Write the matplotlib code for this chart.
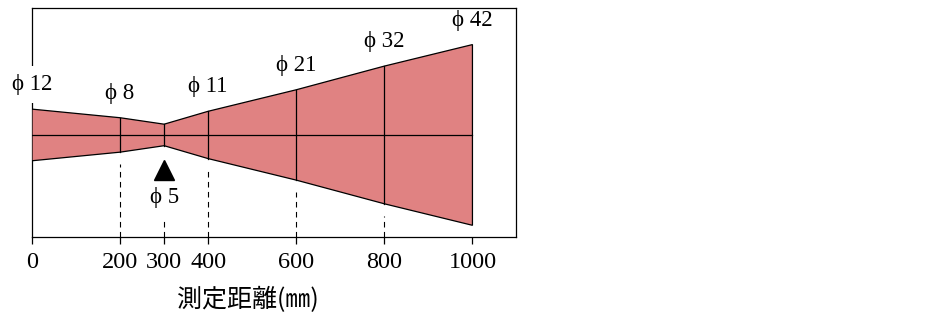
import matplotlib
matplotlib.use('Agg')
import matplotlib.pyplot as plt
from matplotlib.transforms import blended_transform_factory, ScaledTranslation

# 測定距離 (mm) と スポット径 (mm)
dist = [0, 200, 300, 400, 600, 800, 1000]
diam = [12, 8, 5, 11, 21, 32, 42]
tick_pos = [0, 200, 300, 400, 600, 800, 1000]
tick_lab = ['0', '200', '300', '400', '600', '800', '1000']
focus_dist = 300
xlabel = '測定距離(㎜)'

serif = ['Liberation Serif', 'DejaVu Serif']
fill_col = '#e08282'

fig = plt.figure(figsize=(9.45, 3.15), dpi=100)
ax = fig.add_axes([32 / 945, 78.5 / 315, 484.5 / 945, 228.5 / 315])

r = [d / 2 for d in diam]
top = r
bot = [-v for v in r]

# ビーム形状
poly_x = dist + dist[::-1]
poly_y = top + bot[::-1]
ax.fill(poly_x, poly_y, facecolor=fill_col, edgecolor='black', linewidth=0.9, zorder=3)
ax.plot([dist[0], dist[-1]], [0, 0], color='black', linewidth=0.9, zorder=4)
for x, t, b in zip(dist[1:-1], top[1:-1], bot[1:-1]):
    ax.plot([x, x], [b, t], color='black', linewidth=0.9, zorder=4)

# 径ラベル
for x, t, d in zip(dist, top, diam):
    if x == focus_dist:
        continue
    txt = ax.annotate('ϕ %d' % d, (x, t), xytext=(0, 17.6), textcoords='offset points',
                      ha='center', va='center', fontsize=16.5, family=serif, zorder=2)
    if x == 0:
        txt.set_bbox(dict(facecolor='white', edgecolor='none', pad=6))

# 焦点
i = dist.index(focus_dist)
ax.plot([focus_dist], [bot[i]], marker='^', markersize=14, color='black',
        transform=ax.transData + ScaledTranslation(0, -24 / 100, fig.dpi_scale_trans),
        zorder=5, clip_on=False)
ax.annotate('ϕ %d' % diam[i], (focus_dist, bot[i]), xytext=(0, -37.5), textcoords='offset points',
            ha='center', va='center', fontsize=16.5, family=serif)

ylo, yhi = -23.6, 29.5

# 補助線
for x, b in zip(dist[1:-1], bot[1:-1]):
    start = b - 2.8 if x != focus_dist else -19.0
    ax.plot([x, x], [ylo, start], color='black', linewidth=0.8, linestyle=(0, (5, 4)), zorder=1)

ax.set_xlim(0, 1100)
ax.set_ylim(ylo, yhi)
ax.set_yticks([])
ax.set_xticks(tick_pos)
ax.set_xticklabels(tick_lab, family=serif, fontsize=17.5)
ax.tick_params(axis='x', direction='out', length=5, width=0.9, pad=6.5)
for s in ax.spines.values():
    s.set_linewidth(0.9)
    s.set_zorder(0)

tr = blended_transform_factory(ax.transData, fig.transFigure)
ax.text(490, 1 - 300 / 315, xlabel, transform=tr, ha='center', va='center',
        fontsize=18, family=['Noto Sans CJK JP', 'DejaVu Sans'])

fig.savefig('out.png', dpi=100)
